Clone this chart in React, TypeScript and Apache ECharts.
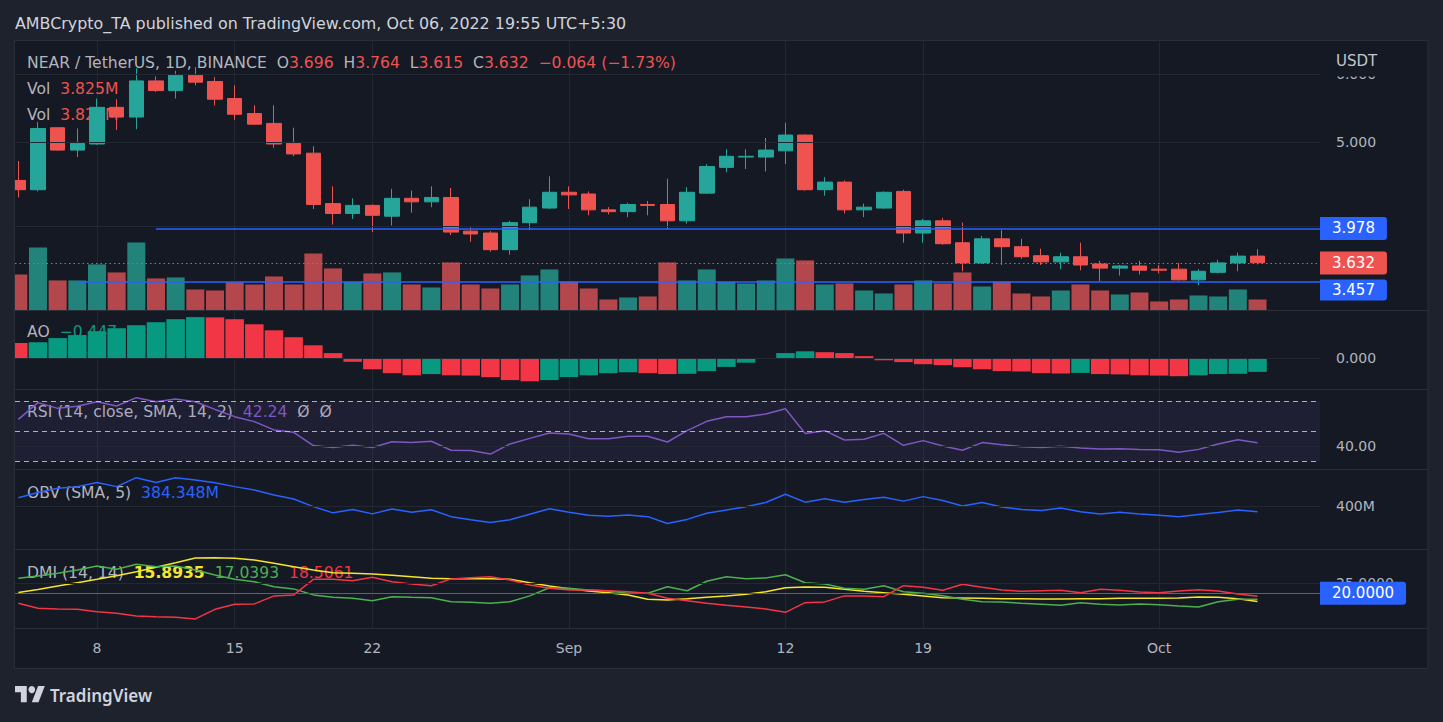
import React, { useEffect, useRef } from "react";
import * as echarts from "echarts";

// ---------------- DATA ----------------
const DATES = [
  "2022-08-04","2022-08-05","2022-08-06","2022-08-07","2022-08-08","2022-08-09","2022-08-10","2022-08-11",
  "2022-08-12","2022-08-13","2022-08-14","2022-08-15","2022-08-16","2022-08-17","2022-08-18","2022-08-19",
  "2022-08-20","2022-08-21","2022-08-22","2022-08-23","2022-08-24","2022-08-25","2022-08-26","2022-08-27",
  "2022-08-28","2022-08-29","2022-08-30","2022-08-31","2022-09-01","2022-09-02","2022-09-03","2022-09-04",
  "2022-09-05","2022-09-06","2022-09-07","2022-09-08","2022-09-09","2022-09-10","2022-09-11","2022-09-12",
  "2022-09-13","2022-09-14","2022-09-15","2022-09-16","2022-09-17","2022-09-18","2022-09-19","2022-09-20",
  "2022-09-21","2022-09-22","2022-09-23","2022-09-24","2022-09-25","2022-09-26","2022-09-27","2022-09-28",
  "2022-09-29","2022-09-30","2022-10-01","2022-10-02","2022-10-03","2022-10-04","2022-10-05","2022-10-06",
];

const OPEN = [
  4.52, 4.41, 5.20, 4.90, 4.98, 5.49, 5.35, 5.89, 5.74, 5.98, 5.88, 5.62, 5.40, 5.26, 4.99, 4.86,
  4.25, 4.14, 4.23, 4.11, 4.31, 4.27, 4.32, 3.95, 3.93, 3.76, 4.04, 4.20, 4.38, 4.36, 4.18, 4.16,
  4.24, 4.24, 4.06, 4.37, 4.68, 4.81, 4.81, 4.89, 5.10, 4.41, 4.50, 4.18, 4.20, 4.39, 3.93, 4.06,
  3.83, 3.63, 3.87, 3.79, 3.70, 3.64, 3.69, 3.62, 3.58, 3.60, 3.57, 3.57, 3.47, 3.54, 3.63, 3.696,
];
const HIGH = [
  4.76, 5.28, 5.21, 5.19, 5.62, 5.61, 6.09, 5.96, 6.05, 6.11, 5.95, 5.82, 5.52, 5.52, 5.20, 4.95,
  4.45, 4.31, 4.24, 4.42, 4.40, 4.45, 4.43, 3.99, 3.95, 4.06, 4.30, 4.57, 4.45, 4.39, 4.21, 4.26,
  4.28, 4.54, 4.44, 4.72, 4.91, 4.91, 5.06, 5.27, 5.11, 4.56, 4.52, 4.25, 4.39, 4.41, 4.08, 4.09,
  4.04, 3.90, 3.96, 3.87, 3.77, 3.73, 3.83, 3.65, 3.61, 3.65, 3.61, 3.63, 3.57, 3.66, 3.73, 3.764,
];
const LOW = [
  4.32, 4.39, 4.89, 4.81, 4.97, 5.17, 5.18, 5.72, 5.62, 5.82, 5.52, 5.31, 5.24, 4.93, 4.82, 4.19,
  4.02, 4.08, 3.94, 4.01, 4.15, 4.21, 3.91, 3.84, 3.74, 3.71, 3.96, 4.19, 4.19, 4.12, 4.13, 4.10,
  4.12, 3.97, 4.03, 4.36, 4.62, 4.66, 4.63, 4.72, 4.40, 4.34, 4.14, 4.10, 4.19, 3.83, 3.83, 3.81,
  3.55, 3.62, 3.61, 3.67, 3.61, 3.57, 3.56, 3.46, 3.51, 3.52, 3.53, 3.465, 3.42, 3.53, 3.55, 3.615,
];
const CLOSE = [
  4.41, 5.19, 4.90, 4.99, 5.49, 5.35, 5.89, 5.74, 5.98, 5.87, 5.61, 5.39, 5.25, 4.98, 4.85, 4.24,
  4.14, 4.23, 4.12, 4.31, 4.27, 4.32, 3.94, 3.92, 3.76, 4.04, 4.21, 4.38, 4.35, 4.18, 4.16, 4.24,
  4.23, 4.06, 4.38, 4.69, 4.82, 4.82, 4.90, 5.10, 4.41, 4.50, 4.18, 4.21, 4.38, 3.93, 4.06, 3.82,
  3.63, 3.87, 3.79, 3.69, 3.64, 3.69, 3.61, 3.58, 3.60, 3.56, 3.56, 3.47, 3.55, 3.63, 3.696, 3.632,
];
// volume in millions of NEAR
const VOLUME = [
  12.93, 22.77, 10.75, 10.75, 16.58, 13.66, 24.59, 11.48, 11.84, 7.47, 7.10, 10.13, 9.29, 12.20, 9.29, 20.58,
  15.12, 10.27, 13.30, 13.66, 9.29, 8.20, 17.30, 9.29, 7.83, 9.29, 12.57, 14.75, 10.38, 7.83, 3.83, 4.55,
  4.92, 17.30, 10.75, 14.75, 10.27, 9.65, 10.75, 18.76, 18.03, 9.29, 9.65, 7.10, 6.01, 9.29, 10.75, 9.65,
  13.66, 8.56, 10.38, 6.01, 4.92, 7.10, 9.29, 7.10, 5.65, 6.38, 3.10, 3.83, 5.28, 4.92, 7.47, 3.825,
];
const AO_BEFORE = 0.55;
const AO = [
  0.52, 0.54, 0.68, 0.78, 0.91, 1.01, 1.11, 1.21, 1.31, 1.38, 1.37, 1.31, 1.14, 0.94, 0.71, 0.44,
  0.18, -0.11, -0.36, -0.49, -0.56, -0.52, -0.56, -0.57, -0.62, -0.72, -0.76, -0.72, -0.62, -0.56, -0.49, -0.46,
  -0.49, -0.52, -0.51, -0.42, -0.28, -0.14, -0.01, 0.18, 0.24, 0.21, 0.18, 0.08, -0.06, -0.12, -0.19, -0.22,
  -0.29, -0.36, -0.42, -0.43, -0.49, -0.50, -0.48, -0.52, -0.53, -0.56, -0.57, -0.59, -0.56, -0.52, -0.51, -0.447,
];
const RSI = [
  57.8, 68.9, 65.1, 66.5, 69.5, 66.7, 72.2, 69.5, 71.3, 69.5, 64.4, 59.6, 56.3, 50.8, 49.2, 40.4,
  39.1, 40.6, 39.1, 43.0, 42.4, 43.3, 37.3, 37.1, 34.8, 41.5, 45.2, 48.8, 48.1, 45.0, 45.0, 46.6,
  46.6, 42.8, 50.3, 56.5, 59.6, 59.6, 61.4, 64.9, 48.5, 50.3, 44.1, 44.6, 48.5, 40.6, 43.7, 40.1,
  37.3, 42.4, 41.0, 39.7, 39.1, 39.9, 38.8, 38.2, 38.4, 37.9, 37.7, 36.0, 37.9, 41.5, 44.3, 42.24,
];
// OBV (SMA 5), millions
const OBV = [
  425, 440, 452, 457, 469, 457, 483, 469, 483, 476, 468, 457, 447, 433, 421, 399,
  381, 391, 378, 392, 383, 390, 370, 361, 353, 361, 377, 393, 383, 374, 371, 375,
  370, 350, 362, 380, 389, 399, 411, 435, 412, 422, 412, 420, 426, 415, 428, 417,
  401, 411, 398, 391, 388, 395, 384, 378, 383, 378, 374, 370, 376, 382, 389, 384.348,
];
const ADX = [
  20.4, 21.9, 23.6, 25.3, 27.0, 28.8, 30.8, 33.0, 35.3, 37.7, 37.8, 37.5, 36.7, 35.0, 33.3, 31.7,
  30.3, 30.0, 29.7, 29.0, 28.3, 27.5, 27.3, 27.3, 27.3, 27.0, 25.3, 23.7, 22.3, 21.2, 20.3, 19.2,
  17.0, 16.7, 17.3, 18.0, 18.7, 19.5, 20.8, 22.8, 23.2, 23.0, 22.0, 21.0, 20.3, 19.5, 18.7, 17.8,
  17.7, 17.5, 17.3, 17.3, 17.2, 17.2, 17.3, 17.3, 17.5, 17.5, 17.5, 17.7, 18.2, 18.0, 17.3, 15.8935,
];
const PLUS_DI = [
  27.5, 28.7, 30.0, 31.7, 33.7, 32.0, 34.5, 33.3, 33.7, 31.7, 29.2, 27.0, 25.8, 23.3, 22.2, 19.2,
  18.0, 17.5, 16.3, 18.3, 18.0, 17.8, 15.8, 15.5, 15.0, 15.8, 18.7, 22.8, 22.5, 21.7, 21.2, 20.0,
  20.0, 23.3, 21.3, 26.0, 28.3, 27.3, 27.7, 29.3, 25.3, 24.7, 22.5, 22.0, 23.8, 20.8, 20.0, 18.8,
  17.0, 15.8, 15.7, 15.0, 14.5, 14.0, 15.3, 14.5, 14.2, 14.7, 14.3, 13.7, 13.2, 15.8, 17.0, 17.0393,
];
const MINUS_DI = [
  15.0, 12.5, 12.2, 12.0, 10.8, 10.0, 8.7, 8.3, 8.0, 7.2, 12.0, 14.5, 14.7, 18.7, 19.2, 27.0,
  27.0, 26.3, 28.0, 25.8, 24.7, 23.8, 27.2, 27.8, 28.3, 26.7, 24.2, 22.5, 21.7, 21.7, 21.3, 20.8,
  20.0, 17.5, 16.3, 15.0, 14.0, 13.2, 12.2, 10.5, 15.3, 15.7, 18.7, 18.7, 18.3, 23.8, 23.0, 21.5,
  24.5, 23.0, 21.7, 21.0, 21.3, 21.5, 20.3, 22.0, 21.5, 20.7, 20.3, 21.2, 21.8, 21.2, 19.7, 18.5061,
];

const TICK_INDEX = [4, 11, 18, 28, 39, 46, 58];
const TICK_LABELS = ["8", "15", "22", "Sep", "12", "19", "Oct"];

const PRICE_GRID = [6, 5, 4];
const PRICE_GRID_LABELS = ["6.000", "5.000", ""];
const LEVEL_HIGH = 3.978;
const LEVEL_HIGH_START = 7;
const LEVEL_LOW = 3.457;
const LEVEL_LOW_START = 3;
const RSI_BANDS = [70, 50, 30];
const RSI_GRID = 40;
const OBV_GRID = 400;
const DMI_GRID = 25;
const DMI_LEVEL = 20;

// ---------------- STYLE ----------------
const FONT = "'DejaVu Sans', 'Noto Sans', sans-serif";
const OUTER_BG = "#1e222d";
const CHART_BG = "#151924";
const BORDER = "#2a2e39";
const GRID_COLOR = "#232732";
const GRAY = "#b2b5be";
const UP = "#26a69a";
const DOWN = "#ef5350";
const VOL_UP = "#22837b";
const VOL_DOWN = "#b4474b";
const AO_UP = "#089981";
const AO_DOWN = "#f23645";
const BLUE = "#2962ff";
const RSI_COLOR = "#7e57c2";
const ADX_COLOR = "#f5e52c";
const PDI_COLOR = "#4caf50";
const MDI_COLOR = "#f23645";

const XMIN = -0.168;
const XMAX = 66.177;

function fmtMinus(v: number, d: number) {
  const s = Math.abs(v).toFixed(d);
  return v < 0 ? "\u2212" + s : s;
}

function buildOption() {
  const N = DATES.length;
  const idx = DATES.map((_, i) => i);
  const last = N - 1;

  const candleData = idx.map((i) => [i, OPEN[i], CLOSE[i], LOW[i], HIGH[i]]);
  const volData = idx.map((i) => ({
    value: [i, VOLUME[i]],
    itemStyle: { color: CLOSE[i] >= OPEN[i] ? VOL_UP : VOL_DOWN },
  }));
  const aoData = idx.map((i) => {
    const prev = i === 0 ? AO_BEFORE : AO[i - 1];
    return { value: [i, AO[i]], itemStyle: { color: AO[i] > prev ? AO_UP : AO_DOWN } };
  });
  const pts = (arr: number[]) => idx.map((i) => [i, arr[i]]);

  const grids = [
    { top: 40.5, height: 269 },
    { top: 200, height: 110 },
    { top: 311, height: 78 },
    { top: 390, height: 79 },
    { top: 470, height: 79 },
    { top: 550, height: 78 },
  ].map((g) => ({ left: 15, width: 1305, ...g, containLabel: false, outerBoundsMode: "none", show: false }));

  const xAxis = grids.map((_, gi) => ({
    type: "value",
    gridIndex: gi,
    min: XMIN,
    max: XMAX,
    axisLine: { show: false },
    axisTick: { show: false, customValues: TICK_INDEX },
    splitLine: { show: gi !== 1, lineStyle: { color: GRID_COLOR, width: 1 } },
    axisLabel:
      gi === 5
        ? {
            show: true,
            customValues: TICK_INDEX,
            formatter: (v: number) => {
              const k = TICK_INDEX.indexOf(Math.round(v));
              return k >= 0 ? TICK_LABELS[k] : "";
            },
            color: GRAY,
            fontSize: 14,
            fontFamily: FONT,
            margin: 13,
          }
        : { show: false },
  }));

  const hiddenY = { axisLine: { show: false }, axisTick: { show: false }, axisLabel: { show: false }, splitLine: { show: false } };
  const yAxis = [
    { type: "log", gridIndex: 0, min: 3.2069, max: 6.558, ...hiddenY },
    { type: "value", gridIndex: 1, min: 0, max: 40, ...hiddenY },
    { type: "value", gridIndex: 2, min: -1.0167, max: 1.5833, ...hiddenY },
    { type: "value", gridIndex: 3, min: 24.89, max: 77.28, ...hiddenY },
    { type: "value", gridIndex: 4, min: 276.2, max: 505.2, ...hiddenY },
    { type: "value", gridIndex: 5, min: 2.65, max: 41.65, ...hiddenY },
  ];

  const axisLbl = (text: string) => ({
    show: text !== "",
    position: "end",
    distance: 16,
    formatter: text,
    color: GRAY,
    fontSize: 14,
    fontFamily: FONT,
  });
  const gridLine = { color: GRID_COLOR, width: 1, type: "solid" };
  const levelLine = { color: BLUE, width: 1.5, type: "solid" };
  const boxLbl = (bg: string, text: string, shift = 0, vpad = 4, hpad = 12) => ({
    show: true,
    position: "end",
    distance: 0,
    formatter: "{b|" + text + "}",
    padding: shift > 0 ? [shift * 2, 0, 0, 0] : 0,
    rich: {
      b: {
        backgroundColor: bg,
        color: "#ffffff",
        fontSize: 15,
        fontFamily: FONT,
        lineHeight: 18,
        padding: [vpad, hpad, vpad, hpad],
        borderRadius: [0, 3, 3, 0],
      },
    },
  });
  const helper = (ax: number, extra: any) => ({
    type: "line",
    xAxisIndex: ax,
    yAxisIndex: ax,
    data: [],
    z: 1,
    silent: true,
    ...extra,
  });
  const ml = (data: any[]) => ({ silent: true, symbol: ["none", "none"], animation: false, data });

  const series: any[] = [
    helper(0, {
      markLine: ml(
        PRICE_GRID.map((v, k) => ({ yAxis: v, lineStyle: gridLine, label: axisLbl(PRICE_GRID_LABELS[k]) }))
      ),
    }),
    {
      type: "bar",
      name: "Vol",
      xAxisIndex: 1,
      yAxisIndex: 1,
      data: volData,
      barWidth: 18,
      z: 2,
      silent: true,
    },
    {
      type: "candlestick",
      name: "NEAR/USDT",
      xAxisIndex: 0,
      yAxisIndex: 0,
      dimensions: ["date", "open", "close", "low", "high"],
      encode: { x: "date", y: ["open", "close", "low", "high"] },
      data: candleData,
      barWidth: 15,
      clip: true,
      z: 3,
      silent: true,
      itemStyle: { color: UP, color0: DOWN, borderColor: UP, borderColor0: DOWN, borderWidth: 1 },
      markLine: ml([
        [
          { coord: [LEVEL_HIGH_START, LEVEL_HIGH], lineStyle: levelLine, label: boxLbl(BLUE, LEVEL_HIGH.toFixed(3)) },
          { coord: [XMAX, LEVEL_HIGH] },
        ],
        {
          yAxis: CLOSE[last],
          lineStyle: { color: DOWN, width: 1, type: [1.5, 3] },
          label: boxLbl(DOWN, CLOSE[last].toFixed(3)),
        },
        [
          { coord: [LEVEL_LOW_START, LEVEL_LOW], lineStyle: levelLine, label: boxLbl(BLUE, LEVEL_LOW.toFixed(3), 8.7, 3) },
          { coord: [XMAX, LEVEL_LOW] },
        ],
      ]),
    },
    helper(2, { markLine: ml([{ yAxis: 0, lineStyle: gridLine, label: axisLbl("0.000") }]) }),
    {
      type: "bar",
      name: "AO",
      xAxisIndex: 2,
      yAxisIndex: 2,
      data: aoData,
      barWidth: 18.5,
      z: 2,
      silent: true,
    },
    helper(3, {
      markArea: {
        silent: true,
        itemStyle: { color: "rgba(126,87,194,0.1)" },
        data: [[{ yAxis: RSI_BANDS[2] }, { yAxis: RSI_BANDS[0] }]],
      },
      markLine: ml([
        { yAxis: RSI_GRID, lineStyle: gridLine, label: axisLbl(RSI_GRID.toFixed(2)) },
        ...RSI_BANDS.map((v) => ({
          yAxis: v,
          lineStyle: { color: "rgba(200,203,210,0.85)", width: 1, type: [5, 4] },
          label: { show: false },
        })),
      ]),
    }),
    {
      type: "line",
      name: "RSI",
      xAxisIndex: 3,
      yAxisIndex: 3,
      data: pts(RSI),
      showSymbol: false,
      silent: true,
      z: 3,
      lineStyle: { color: RSI_COLOR, width: 1.5 },
    },
    helper(4, { markLine: ml([{ yAxis: OBV_GRID, lineStyle: gridLine, label: axisLbl(OBV_GRID + "M") }]) }),
    {
      type: "line",
      name: "OBV",
      xAxisIndex: 4,
      yAxisIndex: 4,
      data: pts(OBV),
      showSymbol: false,
      silent: true,
      z: 3,
      lineStyle: { color: BLUE, width: 1.5 },
    },
    helper(5, {
      markLine: ml([
        { yAxis: DMI_GRID, lineStyle: gridLine, label: axisLbl(DMI_GRID.toFixed(4)) },
        { yAxis: DMI_LEVEL, lineStyle: { color: BLUE, width: 1, type: "solid" }, label: boxLbl(BLUE, DMI_LEVEL.toFixed(4), 0, 4, 12) },
      ]),
    }),
    ...[
      { n: "ADX", d: ADX, c: ADX_COLOR },
      { n: "+DI", d: PLUS_DI, c: PDI_COLOR },
      { n: "-DI", d: MINUS_DI, c: MDI_COLOR },
    ].map((s) => ({
      type: "line",
      name: s.n,
      xAxisIndex: 5,
      yAxisIndex: 5,
      data: pts(s.d),
      showSymbol: false,
      silent: true,
      z: 3,
      lineStyle: { color: s.c, width: 1.5 },
    })),
  ];

  const change = CLOSE[last] - OPEN[last];
  const pct = (change / OPEN[last]) * 100;
  const LFS = 15.6;
  const rich = {
    g: { fill: GRAY, fontSize: LFS, fontFamily: FONT },
    r: { fill: DOWN, fontSize: LFS, fontFamily: FONT },
    t: { fill: AO_UP, fontSize: LFS, fontFamily: FONT },
    p: { fill: RSI_COLOR, fontSize: LFS, fontFamily: FONT },
    b: { fill: BLUE, fontSize: LFS, fontFamily: FONT },
    y: { fill: ADX_COLOR, fontSize: LFS, fontFamily: FONT, fontWeight: "bold" },
    gr: { fill: PDI_COLOR, fontSize: LFS, fontFamily: FONT },
    rd: { fill: MDI_COLOR, fontSize: LFS, fontFamily: FONT },
  };
  const legend = (y: number, text: string) => ({
    type: "text",
    x: 27,
    y,
    z: 1,
    silent: true,
    style: { text, rich, fill: GRAY, fontSize: LFS, fontFamily: FONT, verticalAlign: "middle", align: "left" },
  });
  const volTxt = "{g|Vol}  {r|" + VOLUME[last].toFixed(3) + "M}";
  const legends = [
    legend(
      63,
      "{g|NEAR / TetherUS, 1D, BINANCE}  {g|O}{r|" + OPEN[last].toFixed(3) + "}  {g|H}{r|" + HIGH[last].toFixed(3) +
        "}  {g|L}{r|" + LOW[last].toFixed(3) + "}  {g|C}{r|" + CLOSE[last].toFixed(3) + "}  {r|" + fmtMinus(change, 3) +
        " (" + fmtMinus(pct, 2) + "%)}"
    ),
    legend(89, volTxt),
    legend(115, volTxt),
    legend(332, "{g|AO}  {t|" + fmtMinus(AO[last], 3) + "}"),
    legend(412, "{g|RSI (14, close, SMA, 14, 2)}  {p|" + RSI[last].toFixed(2) + "}  {g|\u00d8}  {g|\u00d8}"),
    legend(493, "{g|OBV (SMA, 5)}  {b|" + OBV[last].toFixed(3) + "M}"),
    legend(
      573,
      "{g|DMI (14, 14)}  {y|" + ADX[last].toFixed(4) + "}  {gr|" + PLUS_DI[last].toFixed(4) + "}  {rd|" + MINUS_DI[last].toFixed(4) + "}"
    ),
  ];

  const frame = [
    { type: "rect", z: 100, silent: true, shape: { x: 0, y: 0, width: 1443, height: 40.5 }, style: { fill: OUTER_BG } },
    { type: "rect", z: 100, silent: true, shape: { x: 0, y: 668.5, width: 1443, height: 54 }, style: { fill: OUTER_BG } },
    { type: "rect", z: 100, silent: true, shape: { x: 0, y: 0, width: 14.5, height: 722 }, style: { fill: OUTER_BG } },
    { type: "rect", z: 100, silent: true, shape: { x: 1428, y: 0, width: 15, height: 722 }, style: { fill: OUTER_BG } },
    { type: "rect", z: 100, silent: true, shape: { x: 1321, y: 41, width: 106, height: 35.5 }, style: { fill: CHART_BG } },
    { type: "rect", z: 101, silent: true, shape: { x: 14.5, y: 40.5, width: 1413.5, height: 628 }, style: { fill: "none", stroke: BORDER, lineWidth: 1 } },
    ...[310.5, 389.5, 469.5, 549.5, 628.5].map((y) => ({
      type: "line",
      z: 101,
      silent: true,
      shape: { x1: 15, y1: y, x2: 1428, y2: y },
      style: { stroke: BORDER, lineWidth: 1 },
    })),
    {
      type: "text",
      z: 102,
      x: 1336,
      y: 61,
      silent: true,
      style: { text: "USDT", fill: "#c3c6ce", fontSize: 15, fontFamily: FONT, verticalAlign: "middle" },
    },
    {
      type: "text",
      z: 102,
      x: 15,
      y: 23,
      silent: true,
      style: {
        text: "AMBCrypto_TA published on TradingView.com, Oct 06, 2022 19:55 UTC+5:30",
        fill: "#d1d4dc",
        fontSize: 15.9,
        fontFamily: FONT,
        verticalAlign: "middle",
      },
    },
    {
      type: "group",
      z: 102,
      x: 15,
      y: 682.4,
      scaleX: 0.84,
      scaleY: 0.9,
      silent: true,
      children: [
        { type: "polygon", z: 102, shape: { points: [[0, 4], [14, 4], [14, 22], [7, 22], [7, 11], [0, 11]] }, style: { fill: "#d1d4dc" } },
        { type: "circle", z: 102, shape: { cx: 20, cy: 8, r: 4 }, style: { fill: "#d1d4dc" } },
        { type: "polygon", z: 102, shape: { points: [[20, 22], [27.5, 4], [35.5, 4], [28, 22]] }, style: { fill: "#d1d4dc" } },
      ],
    },
    {
      type: "text",
      z: 102,
      x: 50,
      y: 695,
      silent: true,
      style: { text: "TradingView", fill: "#d1d4dc", fontSize: 17, fontWeight: 600, fontFamily: "'Noto Sans', sans-serif", verticalAlign: "middle" },
    },
  ];

  return {
    animation: false,
    backgroundColor: CHART_BG,
    textStyle: { fontFamily: FONT },
    grid: grids,
    xAxis,
    yAxis,
    series,
    graphic: { elements: [...legends, ...frame] },
  };
}

export default function App() {
  const ref = useRef<HTMLDivElement>(null);
  useEffect(() => {
    document.body.style.margin = "0";
    const chart = echarts.init(ref.current as HTMLDivElement, null, { renderer: "svg" });
    chart.setOption(buildOption() as any);
    return () => chart.dispose();
  }, []);
  return <div ref={ref} style={{ width: 1443, height: 722, background: OUTER_BG }} />;
}
